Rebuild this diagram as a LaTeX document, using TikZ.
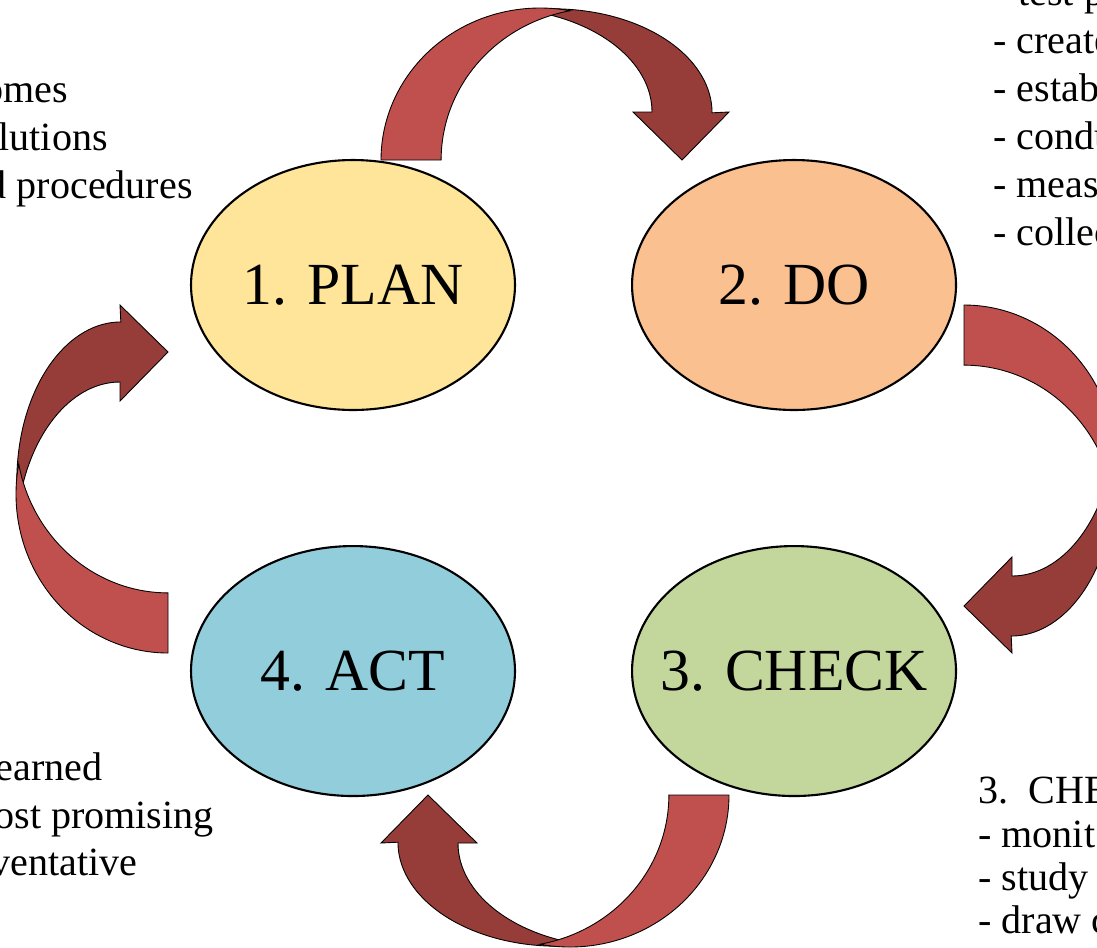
\documentclass[tikz,border=0pt]{standalone}
\usepackage{fontspec}
\setmainfont{Liberation Serif}
\usetikzlibrary{shapes.geometric, positioning}

\definecolor{planfill}{RGB}{254,229,153}
\definecolor{dofill}{RGB}{250,192,144}
\definecolor{checkfill}{RGB}{195,214,155}
\definecolor{actfill}{RGB}{146,205,220}
\definecolor{arrowlight}{RGB}{192,80,77}
\definecolor{arrowdark}{RGB}{150,60,57}

\begin{document}
\begin{tikzpicture}[
        x=0.02cm, y=-0.02cm,
        phase/.style={ellipse, draw, line width=1.2pt, inner sep=0pt, minimum width=6.48cm, minimum height=5cm, font=\fontsize{34}{40}\selectfont},
        note/.style={inner sep=0pt, font=\fontsize{22.8}{27.3}\selectfont},
        bandlight/.style={fill=arrowlight, draw=black, line width=0.5pt},
        banddark/.style={fill=arrowdark, draw=black, line width=0.5pt},
        bentarrow/.pic={
            % dark half with the head
            \path[banddark] (142,-149.3) arc[start angle=259.1, end angle=360, x radius=159, y radius=104]
                -- (348,-48) -- (301,0) -- (252,-48) -- (271,-48)
                arc[start angle=0, end angle=-79.1, x radius=159, y radius=104] -- cycle;
            % light half with the tail
            \path[bandlight] (0,0) arc[start angle=180, end angle=280.9, x radius=159, y radius=152]
                arc[start angle=259.1, end angle=180, x radius=159, y radius=152] -- cycle;
        }
    ]
    \useasboundingbox (0,0) rectangle (1097,947);
    \clip (0,0) rectangle (1097,947);

    % curved arrows between the phases
    \pic at (381,160) {bentarrow};
    \pic[rotate=-90] at (964,305) {bentarrow};
    \pic[rotate=180] at (729,795) {bentarrow};
    \pic[rotate=90] at (168,653) {bentarrow};

    % the four phases
    \node[phase, fill=planfill] (plan) at (353,285) {\makebox[0pt]{1. PLAN}};
    \node[phase, fill=dofill, right=2.3cm of plan] (do) {\makebox[0pt]{2. DO}};
    \node[phase, fill=actfill, below=2.68cm of plan] (act) {\makebox[0pt]{4. ACT}};
    \node[phase, fill=checkfill, below=2.68cm of do] (check) {\makebox[0pt]{3. CHECK}};

    % notes
    \node[note, anchor=base east] (plan1) at (68,102) {omes};
    \node[note, anchor=base east] (plan2) at (108,150) {lutions};
    \node[note, anchor=base east] (plan3) at (193,198) {d procedures};

    \node[note, anchor=base west] (do0) at (1018,5) {test p};
    \node[note, anchor=base west] (do1) at (993,53) {- create};
    \node[note, anchor=base west] (do2) at (993,101) {- estab};
    \node[note, anchor=base west] (do3) at (993,149) {- condu};
    \node[note, anchor=base west] (do4) at (993,197) {- meas};
    \node[note, anchor=base west] (do5) at (993,245) {- collec};

    \node[note, anchor=base west] (check0) at (978,803) {3.\ \ CHE};
    \node[note, anchor=base west] (check1) at (978,847) {- monit};
    \node[note, anchor=base west] (check2) at (978,890) {- study};
    \node[note, anchor=base west] (check3) at (978,933) {- draw c};

    \node[note, anchor=base east] (act1) at (103,780) {earned};
    \node[note, anchor=base east] (act2) at (214,828) {ost promising};
    \node[note, anchor=base east] (act3) at (138,875) {ventative};

\end{tikzpicture}
\end{document}
